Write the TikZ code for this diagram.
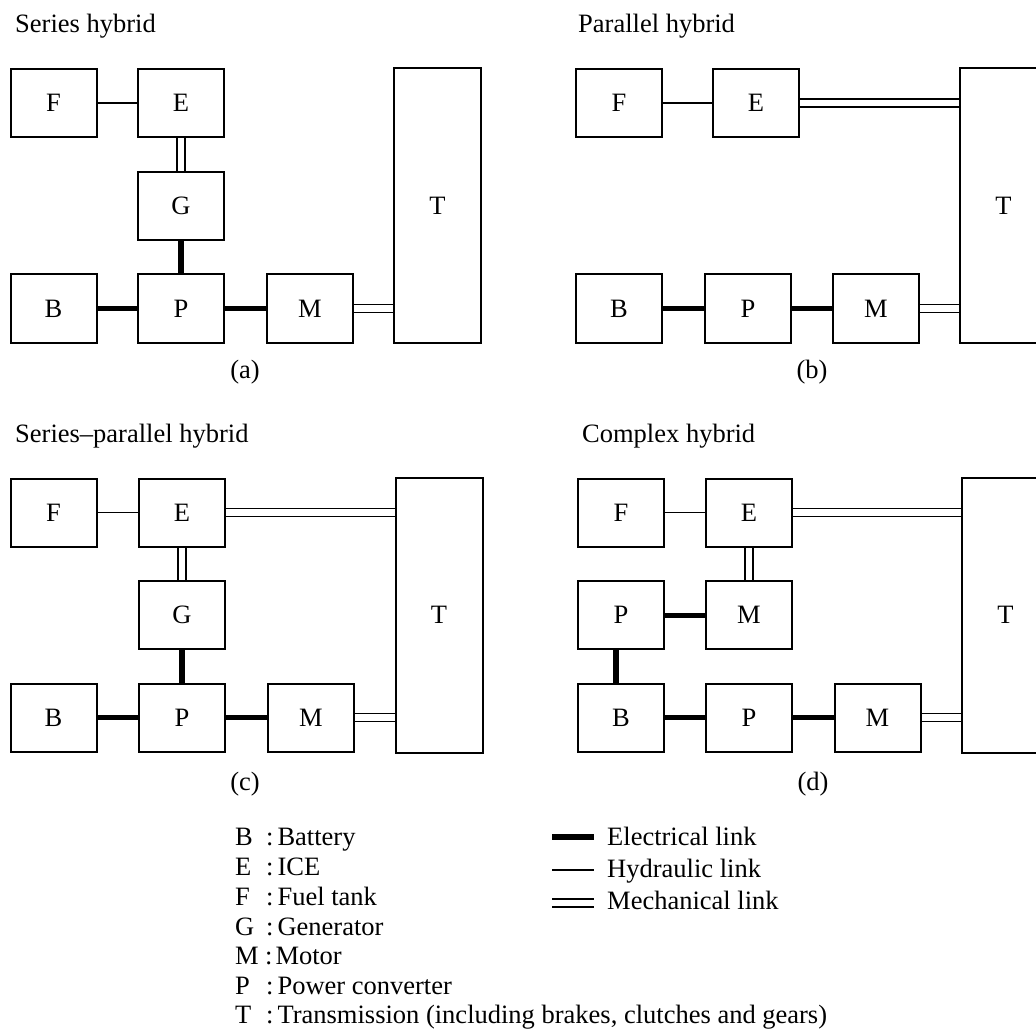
\documentclass[tikz,border=0pt]{standalone}
\usepackage{fontspec}
\setmainfont{Liberation Serif}
\usetikzlibrary{calc}
\pgfdeclarelayer{bg}
\pgfsetlayers{bg,main}
\begin{document}
\begin{tikzpicture}[x=1pt,y=-1pt,
  every node/.style={font=\fontsize{26.5}{31}\selectfont},
  box/.style={draw, line width=2pt, inner sep=0pt, minimum width=86pt, minimum height=68pt},
  tbox/.style={draw, line width=2pt, inner sep=0pt, minimum width=87pt, minimum height=275pt},
  hyd/.style={line width=1.5pt},
  elec/.style={line width=5pt},
  elecv/.style={line width=6.5pt},
  mech/.style={double, double distance=6.5pt, line width=1.5pt},
  ttl/.style={anchor=base west, inner sep=0pt},
  sublabel/.style={anchor=base, inner sep=0pt},
  leg/.style={anchor=base west, inner sep=0pt},
]
\useasboundingbox (0,0) rectangle (1036,1032);

% ---------- (a) Series hybrid ----------
\node[ttl] (ta) at (15,33) {Series hybrid};
\node[box] (aF) at (53.5,103) {F};
\node[box] (aE) at (181,103) {E};
\node[box] (aG) at (181,206) {G};
\node[box] (aB) at (53.5,308.5) {B};
\node[box] (aP) at (181,308.5) {P};
\node[box] (aM) at (310,308.5) {M};
\node[tbox] (aT) at (437.5,205.5) {T};
\node[sublabel] (la) at (245,378) {(a)};

% ---------- (b) Parallel hybrid ----------
\node[ttl] (tb) at (578,33) {Parallel hybrid};
\node[box] (bF) at (619,103) {F};
\node[box] (bE) at (756,103) {E};
\node[box] (bB) at (619,308.5) {B};
\node[box] (bP) at (748,308.5) {P};
\node[box] (bM) at (876,308.5) {M};
\node[tbox] (bT) at (1003.5,205.5) {T};
\node[sublabel] (lb) at (812,378) {(b)};

% ---------- (c) Series-parallel hybrid ----------
\node[ttl] (tc) at (15,442) {Series--parallel hybrid};
\node[box] (cF) at (53.5,512.5) {F};
\node[box] (cE) at (182,512.5) {E};
\node[box] (cG) at (182,615) {G};
\node[box] (cB) at (53.5,717.5) {B};
\node[box] (cP) at (182,717.5) {P};
\node[box] (cM) at (311,717.5) {M};
\node[tbox] (cT) at (439,615) {T};
\node[sublabel] (lc) at (245,790) {(c)};

% ---------- (d) Complex hybrid ----------
\node[ttl] (td) at (582,442) {Complex hybrid};
\node[box] (dF) at (621,512.5) {F};
\node[box] (dE) at (749,512.5) {E};
\node[box] (dP1) at (621,615) {P};
\node[box] (dM1) at (749,615) {M};
\node[box] (dB) at (621,717.5) {B};
\node[box] (dP2) at (749,717.5) {P};
\node[box] (dM2) at (877.5,717.5) {M};
\node[tbox] (dT) at (1005.5,615) {T};
\node[sublabel] (ld) at (813,790) {(d)};

% ---------- connectors ----------
\begin{pgfonlayer}{bg}
  % (a)
  \draw[hyd] (aF) -- (aE);
  \draw[mech] (aE) -- (aG);
  \draw[elecv] (aG) -- (aP);
  \draw[elec] (aB) -- (aP);
  \draw[elec] (aP) -- (aM);
  \draw[mech] (aM.east) -- (aM.east -| aT.west);
  % (b)
  \draw[hyd] (bF) -- (bE);
  \draw[mech] (bE.east) -- (bE.east -| bT.west);
  \draw[elec] (bB) -- (bP);
  \draw[elec] (bP) -- (bM);
  \draw[mech] (bM.east) -- (bM.east -| bT.west);
  % (c)
  \draw[hyd] (cF) -- (cE);
  \draw[mech] (cE.east) -- (cE.east -| cT.west);
  \draw[mech] (cE) -- (cG);
  \draw[elecv] (cG) -- (cP);
  \draw[elec] (cB) -- (cP);
  \draw[elec] (cP) -- (cM);
  \draw[mech] (cM.east) -- (cM.east -| cT.west);
  % (d)
  \draw[hyd] (dF) -- (dE);
  \draw[mech] (dE.east) -- (dE.east -| dT.west);
  \draw[mech] (dE) -- (dM1);
  \draw[elec] (dP1) -- (dM1);
  \draw[elecv] ([xshift=-5pt]dP1.south) -- ([xshift=-5pt]dB.north);
  \draw[elec] (dB) -- (dP2);
  \draw[elec] (dP2) -- (dM2);
  \draw[mech] (dM2.east) -- (dM2.east -| dT.west);
\end{pgfonlayer}

% ---------- legend ----------
\node[leg] (k1) at (235,845) {\makebox[31pt][l]{B}:\hspace{4pt}Battery};
\node[leg] (k2) at (235,875) {\makebox[31pt][l]{E}:\hspace{4pt}ICE};
\node[leg] (k3) at (235,905) {\makebox[31pt][l]{F}:\hspace{4pt}Fuel tank};
\node[leg] (k4) at (235,935) {\makebox[31pt][l]{G}:\hspace{4pt}Generator};
\node[leg] (k5) at (235,964.5) {\makebox[30pt][l]{M}:\hspace{3pt}Motor};
\node[leg] (k6) at (235,994) {\makebox[31pt][l]{P}:\hspace{4pt}Power converter};
\node[leg] (k7) at (235,1023) {\makebox[31pt][l]{T}:\hspace{4pt}Transmission (including brakes, clutches and gears)};

\coordinate (e1) at (552,837);
\coordinate (e2) at (594,837);
\coordinate (h1) at (552,870);
\coordinate (h2) at (594,870);
\coordinate (m1) at (552,903);
\coordinate (m2) at (594,903);
\draw[line width=6pt] (e1) -- (e2);
\draw[hyd] (h1) -- (h2);
\draw[mech] (m1) -- (m2);
\node[leg] (n1) at (607,845.5) {Electrical link};
\node[leg] (n2) at (607,877) {Hydraulic link};
\node[leg] (n3) at (607,909) {Mechanical link};
\end{tikzpicture}
\end{document}
